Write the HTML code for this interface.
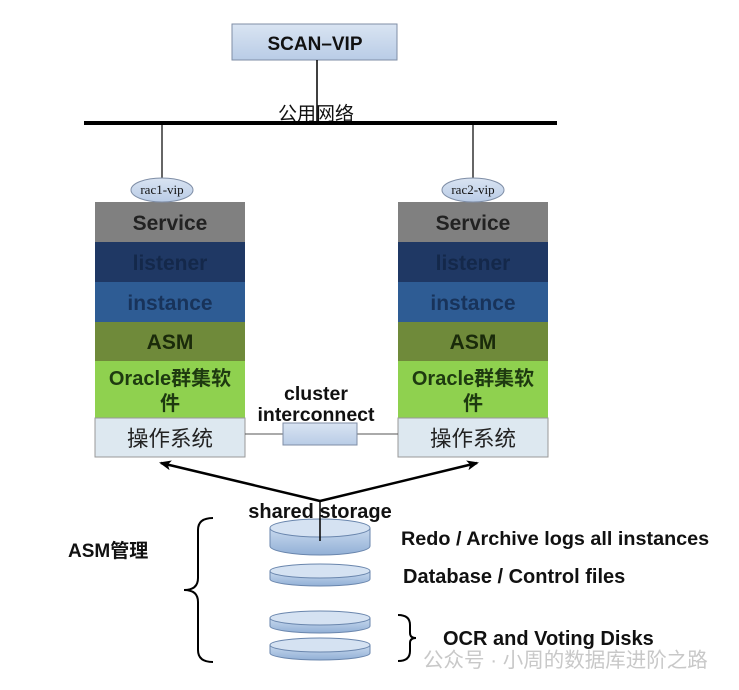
<!DOCTYPE html>
<html><head><meta charset="utf-8"><style>
html,body{margin:0;padding:0;background:#fff;width:739px;height:690px;overflow:hidden}
text{font-family:"Liberation Sans","Noto Sans CJK SC",sans-serif}
text.serif{font-family:"Liberation Serif","Noto Serif CJK SC",serif}
</style></head><body>
<svg width="739" height="690" viewBox="0 0 739 690" xmlns="http://www.w3.org/2000/svg">
<defs>
<linearGradient id="bg" x1="0" y1="0" x2="0" y2="1"><stop offset="0" stop-color="#d9e4f2"/><stop offset="1" stop-color="#b9cce6"/></linearGradient>
<linearGradient id="dk" x1="0" y1="0" x2="0" y2="1"><stop offset="0" stop-color="#c8d9ee"/><stop offset="1" stop-color="#92b0d6"/></linearGradient>
<marker id="ah" markerWidth="12" markerHeight="10" refX="10" refY="5" orient="auto" markerUnits="userSpaceOnUse"><path d="M0,0 L12,5 L0,10 L3,5 Z" fill="#000"/></marker>
</defs>
<rect x="232" y="24" width="165" height="36" fill="url(#bg)" stroke="#7f8ea6"/>
<text x="315" y="50" text-anchor="middle" font-size="19" font-weight="bold" fill="#111">SCAN–VIP</text>
<line x1="317" y1="60" x2="317" y2="123" stroke="#000" stroke-width="1.5"/>
<text x="316" y="120" text-anchor="middle" font-size="19" fill="#111">公用网络</text>
<line x1="84" y1="123" x2="557" y2="123" stroke="#000" stroke-width="4"/>
<line x1="162" y1="123" x2="162" y2="180" stroke="#000" stroke-width="1.2"/>
<line x1="473" y1="123" x2="473" y2="180" stroke="#000" stroke-width="1.2"/>
<g>
<rect x="95" y="202" width="150" height="40" fill="#808080"/>
<rect x="95" y="242" width="150" height="40" fill="#1f3864"/>
<rect x="95" y="282" width="150" height="40" fill="#2e5c94"/>
<rect x="95" y="322" width="150" height="39" fill="#6f8a3a"/>
<rect x="95" y="361" width="150" height="57" fill="#8fd14f"/>
<rect x="95" y="418" width="150" height="39" fill="#dde8f0" stroke="#999"/>
<ellipse cx="162" cy="190" rx="31" ry="12" fill="url(#bg)" stroke="#7f8ea6"/>
<text class="serif" x="162" y="194" text-anchor="middle" font-size="13" fill="#111">rac1-vip</text>
<text x="170" y="230" text-anchor="middle" font-size="21" font-weight="bold" fill="#222">Service</text>
<text x="170" y="270" text-anchor="middle" font-size="21" font-weight="bold" fill="#14284a">listener</text>
<text x="170" y="310" text-anchor="middle" font-size="21" font-weight="bold" fill="#18335a">instance</text>
<text x="170" y="349" text-anchor="middle" font-size="21" font-weight="bold" fill="#1a2a0a">ASM</text>
<text x="170" y="385" text-anchor="middle" font-size="20" font-weight="bold" fill="#1e3a10">Oracle群集软</text>
<text x="170" y="410" text-anchor="middle" font-size="20" font-weight="bold" fill="#1e3a10">件</text>
<text x="170" y="446" text-anchor="middle" font-size="21.5" fill="#222">操作系统</text>
</g>
<g transform="translate(303,0)">
<rect x="95" y="202" width="150" height="40" fill="#808080"/>
<rect x="95" y="242" width="150" height="40" fill="#1f3864"/>
<rect x="95" y="282" width="150" height="40" fill="#2e5c94"/>
<rect x="95" y="322" width="150" height="39" fill="#6f8a3a"/>
<rect x="95" y="361" width="150" height="57" fill="#8fd14f"/>
<rect x="95" y="418" width="150" height="39" fill="#dde8f0" stroke="#999"/>
<ellipse cx="170" cy="190" rx="31" ry="12" fill="url(#bg)" stroke="#7f8ea6"/>
<text class="serif" x="170" y="194" text-anchor="middle" font-size="13" fill="#111">rac2-vip</text>
<text x="170" y="230" text-anchor="middle" font-size="21" font-weight="bold" fill="#222">Service</text>
<text x="170" y="270" text-anchor="middle" font-size="21" font-weight="bold" fill="#14284a">listener</text>
<text x="170" y="310" text-anchor="middle" font-size="21" font-weight="bold" fill="#18335a">instance</text>
<text x="170" y="349" text-anchor="middle" font-size="21" font-weight="bold" fill="#1a2a0a">ASM</text>
<text x="170" y="385" text-anchor="middle" font-size="20" font-weight="bold" fill="#1e3a10">Oracle群集软</text>
<text x="170" y="410" text-anchor="middle" font-size="20" font-weight="bold" fill="#1e3a10">件</text>
<text x="170" y="446" text-anchor="middle" font-size="21.5" fill="#222">操作系统</text>
</g>
<line x1="245" y1="434" x2="398" y2="434" stroke="#555" stroke-width="1"/>
<rect x="283" y="423" width="74" height="22" fill="url(#bg)" stroke="#7f8ea6"/>
<text x="316" y="400" text-anchor="middle" font-size="19.5" font-weight="bold" fill="#111">cluster</text>
<text x="316" y="421" text-anchor="middle" font-size="19.5" font-weight="bold" fill="#111">interconnect</text>
<line x1="320" y1="501" x2="161" y2="463" stroke="#000" stroke-width="2.5" marker-end="url(#ah)"/>
<line x1="320" y1="501" x2="477" y2="463" stroke="#000" stroke-width="2.5" marker-end="url(#ah)"/>
<text x="320" y="518" text-anchor="middle" font-size="20" font-weight="bold" fill="#111">shared  storage</text>
<path d="M270,528 v18 a50,9 0 0 0 100,0 v-18" fill="url(#dk)" stroke="#6a86ad"/>
<ellipse cx="320" cy="528" rx="50" ry="9" fill="#d5e2f2" stroke="#6a86ad"/>
<line x1="320" y1="501" x2="320" y2="541" stroke="#000" stroke-width="1.5"/>
<path d="M270,571 v8 a50,7 0 0 0 100,0 v-8" fill="url(#dk)" stroke="#6a86ad"/>
<ellipse cx="320" cy="571" rx="50" ry="7" fill="#d5e2f2" stroke="#6a86ad"/>
<path d="M270,618 v8 a50,7 0 0 0 100,0 v-8" fill="url(#dk)" stroke="#6a86ad"/>
<ellipse cx="320" cy="618" rx="50" ry="7" fill="#d5e2f2" stroke="#6a86ad"/>
<path d="M270,645 v8 a50,7 0 0 0 100,0 v-8" fill="url(#dk)" stroke="#6a86ad"/>
<ellipse cx="320" cy="645" rx="50" ry="7" fill="#d5e2f2" stroke="#6a86ad"/>
<text x="401" y="545" font-size="19.8" font-weight="bold" fill="#111">Redo / Archive logs all instances</text>
<text x="403" y="583" font-size="20" font-weight="bold" fill="#111">Database / Control files</text>
<text x="443" y="645" font-size="20" font-weight="bold" fill="#111">OCR and Voting Disks</text>
<text x="423" y="667" font-size="20.5" fill="#c8c8c8">公众号 · 小周的数据库进阶之路</text>
<path d="M398,615 q12,0 12,10 v8 q0,5 6,5 q-6,0 -6,5 v8 q0,10 -12,10" fill="none" stroke="#000" stroke-width="2"/>
<path d="M213,518 q-15,0 -15,12 v48 q0,12 -14,12 q14,0 14,12 v48 q0,12 15,12" fill="none" stroke="#000" stroke-width="2"/>
<text x="68" y="557" font-size="19" font-weight="bold" fill="#111">ASM管理</text>
</svg>
</body></html>
